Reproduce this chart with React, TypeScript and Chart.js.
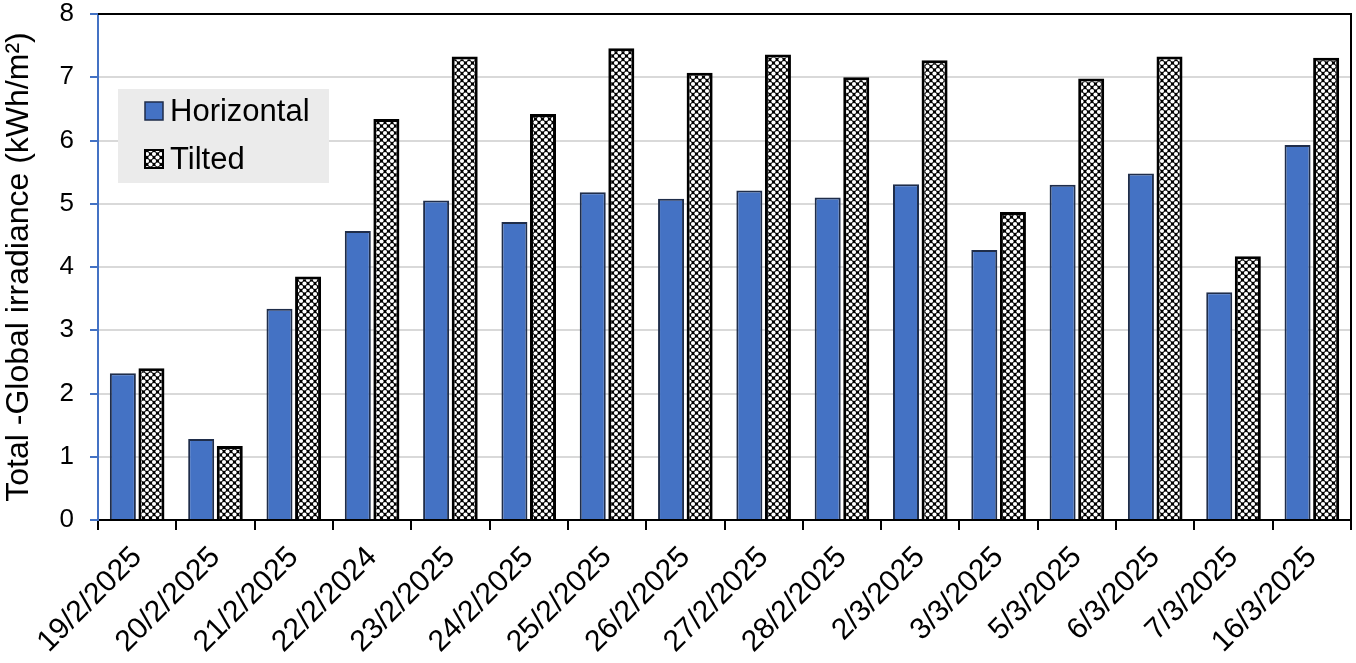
import React, { useEffect, useRef } from "react";
import { Chart, registerables } from "chart.js";

Chart.register(...registerables);

const categories = [
  "19/2/2025", "20/2/2025", "21/2/2025", "22/2/2024", "23/2/2025", "24/2/2025",
  "25/2/2025", "26/2/2025", "27/2/2025", "28/2/2025", "2/3/2025", "3/3/2025",
  "5/3/2025", "6/3/2025", "7/3/2025", "16/3/2025",
];
const horizontal = [2.32, 1.28, 3.34, 4.57, 5.05, 4.71, 5.18, 5.08, 5.21, 5.1, 5.31, 4.27, 5.3, 5.48, 3.6, 5.93];
const tilted = [2.4, 1.17, 3.85, 6.34, 7.33, 6.42, 7.46, 7.07, 7.36, 7.0, 7.27, 4.87, 6.98, 7.33, 4.17, 7.31];
const seriesNames = ["Horizontal", "Tilted"];
const yTitle = "Total -Global irradiance (kWh/m\u00B2)";

const FONT = 'Arial, "Liberation Sans", sans-serif';
const BLUE = "#4472c4";

function makePattern(): CanvasPattern | string {
  const c = document.createElement("canvas");
  const p = 7;
  c.width = p;
  c.height = p;
  const g = c.getContext("2d");
  if (!g) return "#888";
  g.fillStyle = "#000";
  g.fillRect(0, 0, p, p);
  g.fillStyle = "#fff";
  const pts = [[0, 0], [p, 0], [0, p], [p, p], [p / 2, p / 2]];
  for (const [x, y] of pts) {
    g.beginPath();
    g.arc(x, y, 2.1, 0, Math.PI * 2);
    g.fill();
  }
  const pat = g.createPattern(c, "repeat");
  return pat || "#888";
}

export default function App() {
  const ref = useRef<HTMLCanvasElement | null>(null);

  useEffect(() => {
    document.body.style.margin = "0";
    const canvas = ref.current;
    if (!canvas) return;
    const pattern = makePattern();

    const framePlugin = {
      id: "frame",
      afterDraw(chart: any) {
        const { ctx, chartArea } = chart;
        const { left, right, top, bottom } = chartArea;
        ctx.save();
        ctx.strokeStyle = "#000";
        ctx.lineWidth = 2;
        ctx.beginPath();
        ctx.moveTo(left, top);
        ctx.lineTo(right, top);
        ctx.lineTo(right, bottom);
        ctx.stroke();

        // legend
        const bx = left + 20;
        const by = top + 75;
        const bw = 211;
        const bh = 94;
        ctx.fillStyle = "#ebebeb";
        ctx.fillRect(bx, by, bw, bh);
        ctx.font = `31px ${FONT}`;
        ctx.textBaseline = "middle";
        ctx.textAlign = "left";
        const rows = [
          { fill: BLUE, border: "#1f2d4a", lw: 1.5 },
          { fill: pattern, border: "#000", lw: 2 },
        ];
        rows.forEach((r, i) => {
          const cy = by + 22 + i * 48;
          ctx.fillStyle = r.fill as any;
          ctx.fillRect(bx + 27, cy - 9, 18, 18);
          ctx.strokeStyle = r.border;
          ctx.lineWidth = r.lw;
          ctx.strokeRect(bx + 27, cy - 9, 18, 18);
          ctx.fillStyle = "#000";
          ctx.fillText(seriesNames[i], bx + 52, cy + 1);
        });
        ctx.restore();
      },
    };

    const chart = new Chart(canvas, {
      type: "bar",
      data: {
        labels: categories,
        datasets: [
          {
            label: seriesNames[0],
            data: horizontal,
            backgroundColor: BLUE,
            borderColor: "#1f2d4a",
            borderWidth: 2,
            borderSkipped: "bottom",
            categoryPercentage: 0.73,
            barPercentage: 0.91,
          },
          {
            label: seriesNames[1],
            data: tilted,
            backgroundColor: pattern as any,
            borderColor: "#000",
            borderWidth: 3,
            borderSkipped: "bottom",
            categoryPercentage: 0.73,
            barPercentage: 0.91,
          },
        ],
      },
      options: {
        responsive: false,
        animation: false,
        events: [],
        layout: { padding: { top: 14, right: 5, left: 0, bottom: 0 } },
        plugins: {
          legend: { display: false },
          tooltip: { enabled: false },
          title: { display: false },
        },
        scales: {
          x: {
            afterFit(scale: any) {
              scale.height = 143;
              scale.paddingLeft = 0;
              scale.paddingRight = 0;
            },
            grid: {
              display: true,
              drawOnChartArea: false,
              drawTicks: true,
              tickLength: 10,
              color: "#000",
              lineWidth: 2,
            },
            border: { display: true, color: "#000", width: 2 },
            ticks: {
              autoSkip: false,
              maxRotation: 45,
              minRotation: 45,
              color: "#000",
              font: { family: FONT, size: 30 },
              padding: 10,
            },
          },
          y: {
            min: 0,
            max: 8,
            afterFit(scale: any) {
              scale.width = 98;
              scale.paddingTop = 0;
              scale.paddingBottom = 0;
            },
            ticks: {
              stepSize: 1,
              color: "#000",
              font: { family: FONT, size: 26 },
              padding: 16,
            },
            grid: {
              color: "#d9d9d9",
              lineWidth: 2,
              drawTicks: true,
              tickLength: 8,
              tickColor: BLUE,
            },
            border: { display: true, color: BLUE, width: 2 },
            title: {
              display: true,
              text: yTitle,
              color: "#000",
              font: { family: FONT, size: 32 },
              padding: { top: 0, bottom: 0 },
            },
          },
        },
      },
      plugins: [framePlugin],
    });

    return () => {
      chart.destroy();
    };
  }, []);

  return (
    <div style={{ position: "fixed", left: 0, top: 0, width: 1356, height: 663, background: "#fff" }}>
      <canvas ref={ref} width={1356} height={663} style={{ display: "block" }} />
    </div>
  );
}
